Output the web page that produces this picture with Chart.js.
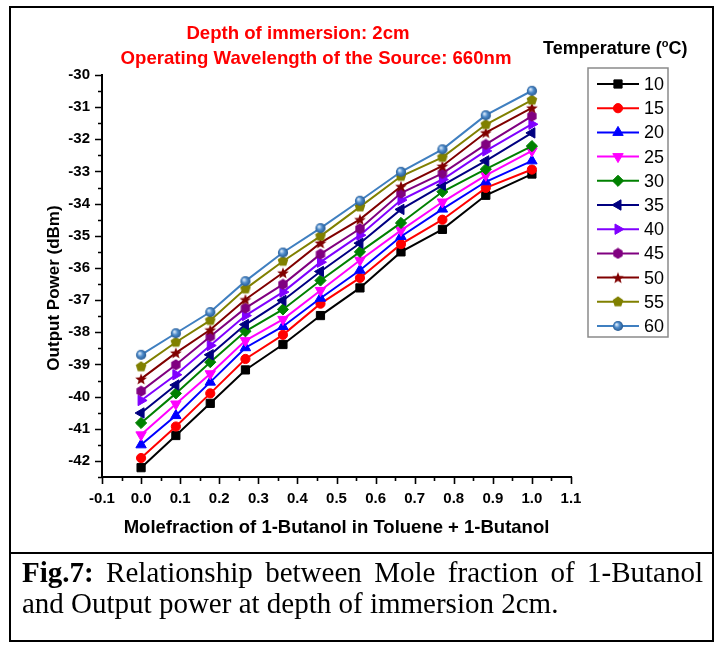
<!DOCTYPE html>
<html>
<head>
<meta charset="utf-8">
<script src="https://cdn.jsdelivr.net/npm/chart.js@4.4.1/dist/chart.umd.min.js"></script>
<style>
  html, body { margin: 0; padding: 0; background: #fff; }
  #wrap { position: relative; width: 719px; height: 646px; overflow: hidden; background: #fff; }
  #c { position: absolute; left: 0; top: 0; }
  .frame { position: absolute; left: 9px; top: 6px; width: 701px; height: 632px; border: 2px solid #000; }
  .sep { position: absolute; left: 9px; top: 552px; width: 705px; height: 2px; background: #000; }
  .sans { position: absolute; font-family: 'Liberation Sans', Arial, sans-serif; font-weight: bold; white-space: nowrap; line-height: 1; }
  .red { color: #ff0000; font-size: 18.6px; transform: translateX(-50%); }
  .legtitle { color: #000; font-size: 18px; left: 543px; top: 38px; }
  .legtitle sup { font-size: 11px; vertical-align: 7px; }
  .ytitle { color: #000; font-size: 17px; left: 53px; top: 288px; transform: translate(-50%, -50%) rotate(-90deg); }
  .caption { position: absolute; left: 22px; top: 557px; width: 681px; font-family: 'Liberation Serif', 'Times New Roman', serif; font-size: 29px; line-height: 31px; text-align: justify; text-align-last: left; color: #000; }
</style>
</head>
<body>
<div id="wrap">
  <canvas id="c" width="719" height="646"></canvas>
  <div class="frame"></div>
  <div class="sep"></div>
  <div class="sans red" style="left:298px; top:24px;">Depth of immersion: 2cm</div>
  <div class="sans red" style="left:316px; top:49px;">Operating Wavelength of the Source: 660nm</div>
  <div class="sans legtitle">Temperature (<sup>o</sup>C)</div>
  <div class="sans ytitle">Output Power (dBm)</div>
  <div class="caption"><b>Fig.7:</b> Relationship between Mole fraction of 1-Butanol and Output power at depth of immersion 2cm.</div>
</div>
<script>
// Mole fraction of 1-Butanol in the Toluene + 1-Butanol mixture
const moleFraction = [0, 0.089, 0.177, 0.267, 0.363, 0.459, 0.560, 0.665, 0.771, 0.882, 1.0];

// Temperatures (°C), one series each
const temperatures = ['10', '15', '20', '25', '30', '35', '40', '45', '50', '55', '60'];

// Output power (dBm) for each temperature
const power10 = [-42.21, -41.21, -40.21, -39.17, -38.38, -37.48, -36.62, -35.50, -34.80, -33.74, -33.08];
const power15 = [-41.91, -40.93, -39.90, -38.83, -38.08, -37.11, -36.31, -35.26, -34.50, -33.51, -32.94];
const power20 = [-41.50, -40.59, -39.55, -38.48, -37.82, -36.94, -36.07, -35.02, -34.17, -33.32, -32.67];
const power25 = [-41.19, -40.23, -39.29, -38.26, -37.60, -36.70, -35.76, -34.83, -33.95, -33.12, -32.36];
const power30 = [-40.82, -39.90, -38.93, -37.97, -37.29, -36.39, -35.50, -34.60, -33.63, -32.93, -32.21];
const power35 = [-40.51, -39.64, -38.70, -37.76, -37.01, -36.11, -35.23, -34.18, -33.43, -32.67, -31.80];
const power40 = [-40.12, -39.32, -38.41, -37.48, -36.75, -35.82, -34.98, -33.89, -33.25, -32.36, -31.53];
const power45 = [-39.83, -39.01, -38.13, -37.25, -36.51, -35.57, -34.78, -33.67, -33.06, -32.16, -31.28];
const power50 = [-39.45, -38.64, -37.92, -36.98, -36.15, -35.22, -34.49, -33.46, -32.83, -31.79, -31.02];
const power55 = [-39.07, -38.31, -37.63, -36.65, -35.79, -35.01, -34.10, -33.15, -32.56, -31.54, -30.78];
const power60 = [-38.70, -38.03, -37.37, -36.41, -35.52, -34.76, -33.91, -33.01, -32.31, -31.25, -30.49];

// Axis tick labels
const xTickValues = [-0.1, 0.0, 0.1, 0.2, 0.3, 0.4, 0.5, 0.6, 0.7, 0.8, 0.9, 1.0, 1.1];
const yTickValues = [-42, -41, -40, -39, -38, -37, -36, -35, -34, -33, -32, -31, -30];

const seriesValues = [power10, power15, power20, power25, power30, power35, power40, power45, power50, power55, power60];

// ---- styling ----
const seriesColors = ['#000000', '#ff0000', '#0000ff', '#ff00ff', '#008000', '#000080',
                      '#8000ff', '#800080', '#800000', '#808000', '#3f7fc0'];

function markerCanvas(size, paint) {
  const c = document.createElement('canvas');
  c.width = size; c.height = size;
  const g = c.getContext('2d');
  paint(g, size / 2);
  return c;
}
function polygon(g, cx, r, n, startAngle) {
  g.beginPath();
  for (let k = 0; k < n; k++) {
    const a = startAngle + k * 2 * Math.PI / n;
    const px = cx + r * Math.cos(a), py = cx + r * Math.sin(a);
    k ? g.lineTo(px, py) : g.moveTo(px, py);
  }
  g.closePath();
}
const hexagonMarker = markerCanvas(12, (g, c) => {
  polygon(g, c, 5.4, 6, -Math.PI / 2);
  g.fillStyle = '#800080'; g.fill();
});
const starMarker = markerCanvas(14, (g, c) => {
  g.beginPath();
  for (let k = 0; k < 10; k++) {
    const r = k % 2 ? 2.6 : 6.2;
    const a = -Math.PI / 2 + k * Math.PI / 5;
    const px = c + r * Math.cos(a), py = c + 0.6 + r * Math.sin(a);
    k ? g.lineTo(px, py) : g.moveTo(px, py);
  }
  g.closePath();
  g.fillStyle = '#800000'; g.fill();
});
const pentagonMarker = markerCanvas(12, (g, c) => {
  polygon(g, c, 5.6, 5, -Math.PI / 2);
  g.fillStyle = '#808000'; g.fill();
});
const sphereMarker = markerCanvas(12, (g, c) => {
  const grad = g.createRadialGradient(c - 1.6, c - 1.6, 0.5, c, c, 5.2);
  grad.addColorStop(0, '#d8e8f8');
  grad.addColorStop(0.45, '#4f8ccb');
  grad.addColorStop(1, '#24578f');
  g.beginPath(); g.arc(c, c, 5.1, 0, Math.PI * 2);
  g.fillStyle = grad; g.fill();
});

const seriesMarkers = [
  { style: 'rect', radius: 5.8, rotation: 0 },
  { style: 'circle', radius: 4.6, rotation: 0 },
  { style: 'triangle', radius: 6, rotation: 0 },
  { style: 'triangle', radius: 6, rotation: 180 },
  { style: 'rectRot', radius: 5.6, rotation: 0 },
  { style: 'triangle', radius: 6, rotation: -90 },
  { style: 'triangle', radius: 6, rotation: 90 },
  { style: hexagonMarker, radius: 5, rotation: 0 },
  { style: starMarker, radius: 5, rotation: 0 },
  { style: pentagonMarker, radius: 5, rotation: 0 },
  { style: sphereMarker, radius: 5, rotation: 0 }
];

const datasets = temperatures.map((t, i) => ({
  label: t,
  data: moleFraction.map((x, j) => ({ x: x, y: seriesValues[i][j] })),
  showLine: true,
  fill: false,
  tension: 0,
  borderColor: seriesColors[i],
  borderWidth: 2,
  pointStyle: seriesMarkers[i].style,
  pointRadius: seriesMarkers[i].radius,
  pointRotation: seriesMarkers[i].rotation,
  pointBackgroundColor: seriesColors[i],
  pointBorderColor: seriesColors[i],
  pointBorderWidth: 1,
  order: temperatures.length - i
}));

const AXIS_FONT = "'Liberation Sans', Arial, sans-serif";

// Outward major/minor tick marks on both axes
const axisTicks = {
  id: 'axisTicks',
  afterDraw(chart) {
    const { ctx, chartArea } = chart;
    const xs = chart.scales.x, ys = chart.scales.y;
    ctx.save();
    ctx.strokeStyle = '#000';
    ctx.lineWidth = 1.6;
    ctx.beginPath();
    for (let k = 0; k <= 24; k++) {
      const v = xs.min + k * 0.05;
      const px = Math.round(xs.getPixelForValue(v)) + 0.5;
      const len = k % 2 === 0 ? 7 : 4;
      ctx.moveTo(px, chartArea.bottom);
      ctx.lineTo(px, chartArea.bottom + len);
    }
    for (let k = 0; k <= 25; k++) {
      const v = ys.min + k * 0.5;
      const py = Math.round(ys.getPixelForValue(v)) + 0.5;
      const len = k % 2 === 1 ? 7 : 4;
      ctx.moveTo(chartArea.left, py);
      ctx.lineTo(chartArea.left - len, py);
    }
    ctx.stroke();
    ctx.restore();
  }
};

// Boxed legend with line samples and markers
const boxedLegend = {
  id: 'boxedLegend',
  afterDraw(chart) {
    const ctx = chart.ctx;
    const box = { x: 588, y: 68, w: 80, h: 269 };
    const line0 = 597, line1 = 639, textX = 644, firstY = 84, step = 24.2;
    ctx.save();
    ctx.strokeStyle = '#8a8a8a';
    ctx.lineWidth = 1.5;
    ctx.strokeRect(box.x, box.y, box.w, box.h);
    chart.data.datasets.forEach((ds, i) => {
      const y = firstY + i * step;
      ctx.strokeStyle = ds.borderColor;
      ctx.lineWidth = 2;
      ctx.beginPath();
      ctx.moveTo(line0, y);
      ctx.lineTo(line1, y);
      ctx.stroke();
      ctx.fillStyle = ds.pointBackgroundColor;
      ctx.strokeStyle = ds.pointBorderColor;
      ctx.lineWidth = 1;
      Chart.helpers.drawPoint(ctx, {
        pointStyle: ds.pointStyle,
        radius: ds.pointRadius,
        rotation: ds.pointRotation,
        borderWidth: 1
      }, (line0 + line1) / 2, y);
      ctx.fillStyle = '#000';
      ctx.font = "18px " + AXIS_FONT;
      ctx.textBaseline = 'middle';
      ctx.textAlign = 'left';
      ctx.fillText(ds.label, textX, y + 1);
    });
    ctx.restore();
  }
};

new Chart(document.getElementById('c'), {
  type: 'scatter',
  data: { datasets },
  plugins: [axisTicks, boxedLegend],
  options: {
    responsive: false,
    animation: false,
    devicePixelRatio: 1,
    layout: { padding: { left: 0, top: 75, right: 148, bottom: 101 } },
    plugins: {
      legend: { display: false },
      tooltip: { enabled: false },
      title: { display: false }
    },
    scales: {
      x: {
        type: 'linear',
        min: -0.1,
        max: 1.1,
        afterBuildTicks: s => { s.ticks = xTickValues.map(v => ({ value: v })); },
        afterFit: s => { s.height = 68; },
        grid: { display: false },
        border: { display: true, color: '#000', width: 2 },
        ticks: {
          autoSkip: false,
          maxRotation: 0,
          padding: 5,
          color: '#000',
          font: { family: AXIS_FONT, size: 15, weight: 'bold' },
          callback: v => Number(v).toFixed(1)
        },
        title: {
          display: true,
          text: 'Molefraction of 1-Butanol in Toluene + 1-Butanol',
          color: '#000',
          font: { family: AXIS_FONT, size: 18.5, weight: 'bold' },
          padding: { top: 0, bottom: 6 }
        }
      },
      y: {
        type: 'linear',
        min: -42.5,
        max: -30,
        afterBuildTicks: s => { s.ticks = yTickValues.map(v => ({ value: v })); },
        afterFit: s => { s.width = 102; },
        grid: { display: false },
        border: { display: true, color: '#000', width: 2 },
        ticks: {
          padding: 4,
          color: '#000',
          font: { family: AXIS_FONT, size: 15, weight: 'bold' },
          callback: v => String(v)
        },
        title: { display: false }
      }
    }
  }
});
</script>
</body>
</html>
